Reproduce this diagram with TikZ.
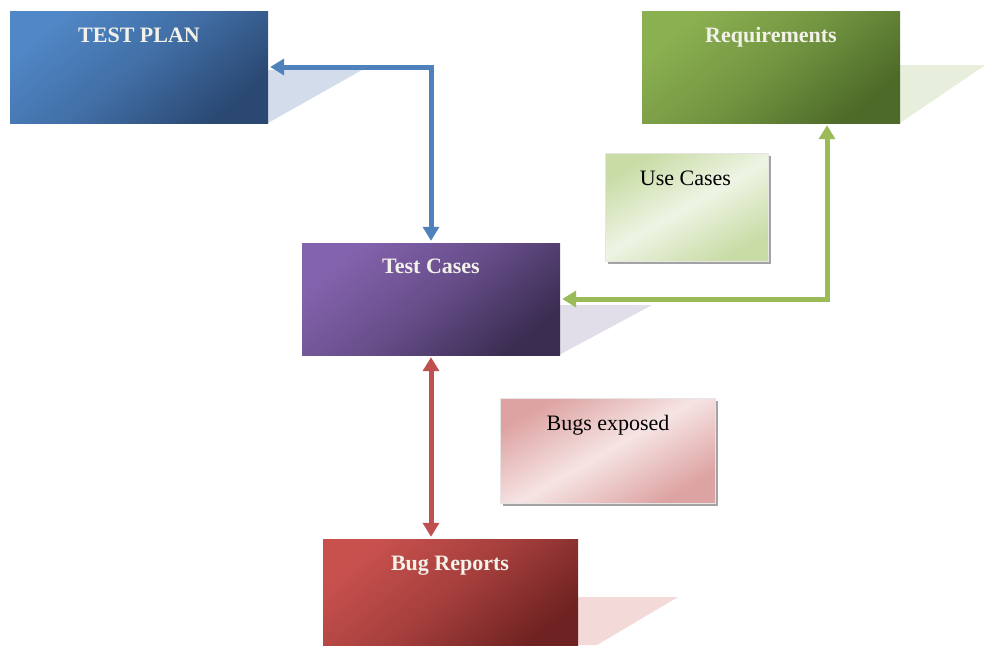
\documentclass[tikz,border=0pt]{standalone}
\usepackage{fontspec}
\setmainfont{Liberation Serif}
\usetikzlibrary{arrows.meta,shadows}
\definecolor{tpA}{HTML}{5087C6}
\definecolor{tpB}{HTML}{2A4872}
\definecolor{rqA}{HTML}{8BB051}
\definecolor{rqB}{HTML}{4D6A28}
\definecolor{tcA}{HTML}{8463AE}
\definecolor{tcB}{HTML}{3B2D52}
\definecolor{brA}{HTML}{C8514E}
\definecolor{brB}{HTML}{6E2221}
\definecolor{tpS}{HTML}{D3DCEA}
\definecolor{rqS}{HTML}{E8EEDC}
\definecolor{tcS}{HTML}{E1DDE9}
\definecolor{brS}{HTML}{F3DAD9}
\definecolor{arB}{HTML}{4F81BD}
\definecolor{arG}{HTML}{9BBB59}
\definecolor{arR}{HTML}{C0504D}
\definecolor{ucA}{HTML}{C9DCA6}
\definecolor{ucB}{HTML}{EEF4E4}
\definecolor{beA}{HTML}{DDA3A2}
\definecolor{beB}{HTML}{F6E4E4}
\definecolor{lbltext}{HTML}{F2F2EA}
\begin{document}
\begin{tikzpicture}[x=1pt,y=-1pt,
  bigbox/.style={rectangle, inner sep=0pt, minimum width=258pt, minimum height=112pt},
  smallbox/.style={rectangle, inner sep=0pt, draw=white!80!gray, line width=0.6pt,
    drop shadow={shadow xshift=3pt, shadow yshift=-3pt, fill=gray!80, opacity=0.9}},
  lbl/.style={anchor=base, font=\fontsize{22}{24}\selectfont\bfseries, text=lbltext},
  dlbl/.style={anchor=base, font=\fontsize{22}{24}\selectfont, text=black},
  arr/.style={line width=5pt, {Triangle[width=16pt,length=14pt]}-{Triangle[width=16pt,length=14pt]}, shorten <=2pt, shorten >=2pt}
]
\useasboundingbox (0,0) rectangle (984,645);
% shadows of main boxes
\fill[tpS] (268,70) -- (362,70) -- (268,123) -- cycle;
\fill[rqS] (899,65) -- (984,65) -- (984,66) -- (900,123) -- (899,123) -- cycle;
\fill[tcS] (559,305) -- (652,305) -- (559,355) -- cycle;
\fill[brS] (578,597) -- (678,597) -- (597,645) -- (578,645) -- cycle;
% main boxes
\node[bigbox, top color=tpA, bottom color=tpB, middle color=tpA!60!tpB, shading angle=40] (tp) at (139,67) {};
\node[bigbox, top color=rqA, bottom color=rqB, middle color=rqA!60!rqB, shading angle=40] (rq) at (771,67) {};
\node[bigbox, top color=tcA, bottom color=tcB, middle color=tcA!60!tcB, shading angle=40] (tc) at (431,299) {};
\node[bigbox, minimum width=255pt, top color=brA, bottom color=brB, middle color=brA!60!brB, shading angle=40] (br) at (450.5,595) {};
% small boxes
\node[smallbox, minimum width=163pt, minimum height=108pt, top color=ucA, bottom color=ucA, middle color=ucB, shading angle=30] (uc) at (686.5,207) {};
\node[smallbox, minimum width=215pt, minimum height=105pt, top color=beA, bottom color=beA, middle color=beB, shading angle=30] (be) at (607.5,450.5) {};
% labels
\node[lbl] (tpt) at (139,42) {TEST PLAN};
\node[lbl] (rqt) at (771,42) {Requirements};
\node[lbl] (tct) at (431,273) {Test Cases};
\node[lbl] (brt) at (450,570) {Bug Reports};
\node[dlbl] (uct) at (685.5,185) {Use Cases};
\node[dlbl] (bet) at (608,430) {Bugs exposed};
% connectors
\draw[arr, arB] (tc.north) |- (tp.east);
\draw[arr, arG] (tc.east) -| ([xshift=56pt]rq.south);
\draw[arr, arR] (tc.south) -- (tc.south |- br.north);
\end{tikzpicture}
\end{document}
